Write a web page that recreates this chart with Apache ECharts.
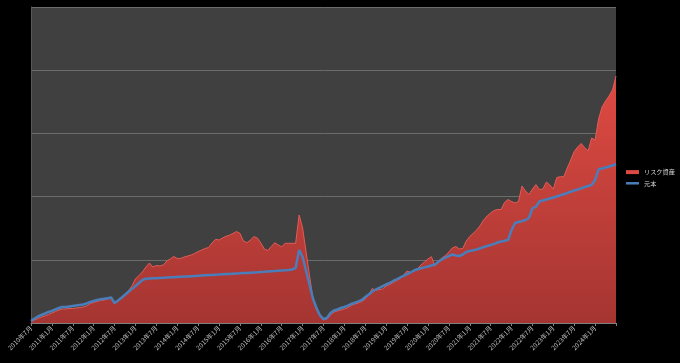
<!DOCTYPE html>
<html>
<head>
<meta charset="utf-8">
<script src="https://cdn.jsdelivr.net/npm/echarts@6/dist/echarts.min.js"></script>
<style>
html,body{margin:0;padding:0;background:#000;}
#chart{width:680px;height:363px;}
</style>
</head>
<body>
<div id="chart"></div>
<script>
// Month labels from 2010年7月 to 2024年7月
var startYear = 2010, startMonth = 7, monthCount = 169;
var categories = [];
for (var k = 0; k < monthCount; k++) {
  var m = startMonth - 1 + k;
  categories.push((startYear + Math.floor(m / 12)) + '年' + (m % 12 + 1) + '月');
}

var seriesNames = ['リスク資産', '元本'];

var riskAsset = [
  1.6,4.7,7.1,9.5,11.1,13.4,15.8,18.2,20.6,22.2,22.2,22.9,22.9,23.7,24.5,25.3,26.9,30.9,32.4,34.0,
  35.6,36.4,38.0,39.6,30.1,36.4,41.1,45.9,51.4,58.5,69.6,75.2,80.7,88.6,94.9,88.6,91.0,90.2,91.8,98.1,
  101.3,105.2,102.1,102.1,104.4,106.0,107.6,110.0,113.1,115.5,117.9,119.5,126.6,132.4,131.3,134.5,137.2,138.9,141.6,144.8,
  141.9,129.7,127.1,131.3,136.6,134.5,126.6,117.1,114.7,121.0,127.1,123.4,120.7,126.1,126.1,126.1,126.1,170.9,150.3,112.3,
  74.4,38.0,20.6,11.1,4.7,6.3,12.7,17.4,19.0,20.6,22.2,24.5,27.7,30.1,31.6,34.0,38.0,44.3,54.6,51.4,
  53.0,53.8,58.5,60.9,64.1,67.2,70.4,75.9,82.3,79.9,83.1,86.2,91.8,96.5,101.3,104.9,90.2,98.1,102.8,106.8,
  112.3,118.7,121.0,117.1,117.9,129.7,136.9,141.9,147.2,154.3,163.0,169.3,174.1,178.0,179.6,179.6,190.7,195.4,192.2,189.9,
  192.2,216.8,208.9,203.3,212.0,219.1,211.2,212.0,223.1,218.4,212.0,230.2,231.5,231.5,245.3,257.9,271.4,278.5,284.0,277.7,
  272.2,292.7,289.6,322.8,341.8,351.3,359.2,368.7,390.8
];

var principal = [
  3.2,7.1,10.3,12.7,15.0,17.4,19.0,21.4,23.7,25.3,25.3,26.1,26.9,27.7,28.5,29.3,30.9,33.2,34.8,36.4,
  37.5,38.3,39.1,40.3,31.6,35.6,39.9,44.6,49.4,54.0,58.5,63.3,68.0,70.1,70.4,70.7,70.9,71.2,71.5,71.8,
  72.2,72.5,72.8,73.1,73.4,73.7,74.1,74.4,74.8,75.2,75.5,75.8,76.1,76.4,76.7,77.1,77.4,77.7,78.0,78.3,
  78.6,79.0,79.3,79.6,79.9,80.2,80.7,81.0,81.5,82.0,82.3,82.8,83.1,83.4,83.9,84.7,87.0,115.5,104.4,82.3,
  60.1,38.0,23.7,11.9,6.3,7.9,15.8,19.8,21.4,23.7,25.3,27.4,30.1,32.1,34.3,36.4,41.1,45.1,49.8,53.0,
  55.7,58.5,60.9,63.3,66.5,69.1,72.0,74.7,77.5,79.9,83.1,85.1,86.7,88.0,89.4,91.0,92.6,97.0,100.5,103.6,
  106.0,108.4,106.8,106.0,108.4,112.3,113.9,115.0,116.3,118.2,120.3,121.8,123.4,125.3,127.4,129.0,130.1,131.3,147.2,158.2,
  159.8,161.1,163.0,166.1,181.5,184.0,192.2,193.8,195.4,197.0,198.6,200.2,202.1,203.8,205.7,207.6,209.7,211.2,213.1,215.2,
  216.8,218.4,226.3,243.2,244.5,246.0,247.6,249.2,251.6
];

var chart = echarts.init(document.getElementById('chart'), null, {renderer: 'canvas'});
var font = '"Noto Sans CJK JP", "Noto Sans", sans-serif';
chart.setOption({
  backgroundColor: '#000000',
  animation: false,
  textStyle: {fontFamily: font},
  grid: {
    left: 31, right: 64, top: 7, bottom: 40,
    show: true, backgroundColor: '#404040', borderWidth: 0
  },
  legend: {
    orient: 'vertical',
    left: 626, top: 169, padding: 0,
    itemWidth: 13, itemHeight: 4, itemGap: 5,
    textStyle: {color: '#d8d8d8', fontSize: 6.2, fontFamily: font},
    data: [
      {name: seriesNames[0], icon: 'path://M0,0H13V4H0Z', itemStyle: {color: '#dc4a44'}},
      {name: seriesNames[1], icon: 'path://M0,0H13V2.5H0Z', itemStyle: {color: '#4a7ebb'}}
    ]
  },
  xAxis: {
    type: 'category',
    data: categories,
    boundaryGap: false,
    axisLine: {show: true, lineStyle: {color: '#808080', width: 1}},
    axisTick: {show: true, interval: function (i) { return i % 6 === 0; }, length: 3, lineStyle: {color: '#808080'}},
    axisLabel: {
      interval: function (i) { return i % 6 === 0 && i < monthCount - 1; },
      rotate: 45, fontSize: 6.5, color: '#bdbdbd', margin: 4, fontFamily: font
    },
    splitLine: {show: false}
  },
  yAxis: {
    type: 'value',
    min: 0, max: 500, interval: 100,
    axisLine: {show: true, lineStyle: {color: '#5a5a5a', width: 1}},
    axisTick: {show: false},
    axisLabel: {show: false},
    splitLine: {show: true, lineStyle: {color: '#6c6c6c', width: 1}}
  },
  series: [
    {
      name: seriesNames[0],
      type: 'line',
      data: riskAsset,
      symbol: 'none',
      lineStyle: {color: '#e25c56', width: 1},
      itemStyle: {color: '#dc4a44'},
      areaStyle: {
        opacity: 1,
        color: new echarts.graphic.LinearGradient(0, 0, 0, 1, [
          {offset: 0, color: '#de4a42'},
          {offset: 1, color: '#a53532'}
        ])
      },
      z: 2
    },
    {
      name: seriesNames[1],
      type: 'line',
      data: principal,
      symbol: 'none',
      lineStyle: {color: '#4a7ebb', width: 2.5},
      itemStyle: {color: '#4a7ebb'},
      z: 3
    }
  ]
});
</script>
</body>
</html>
